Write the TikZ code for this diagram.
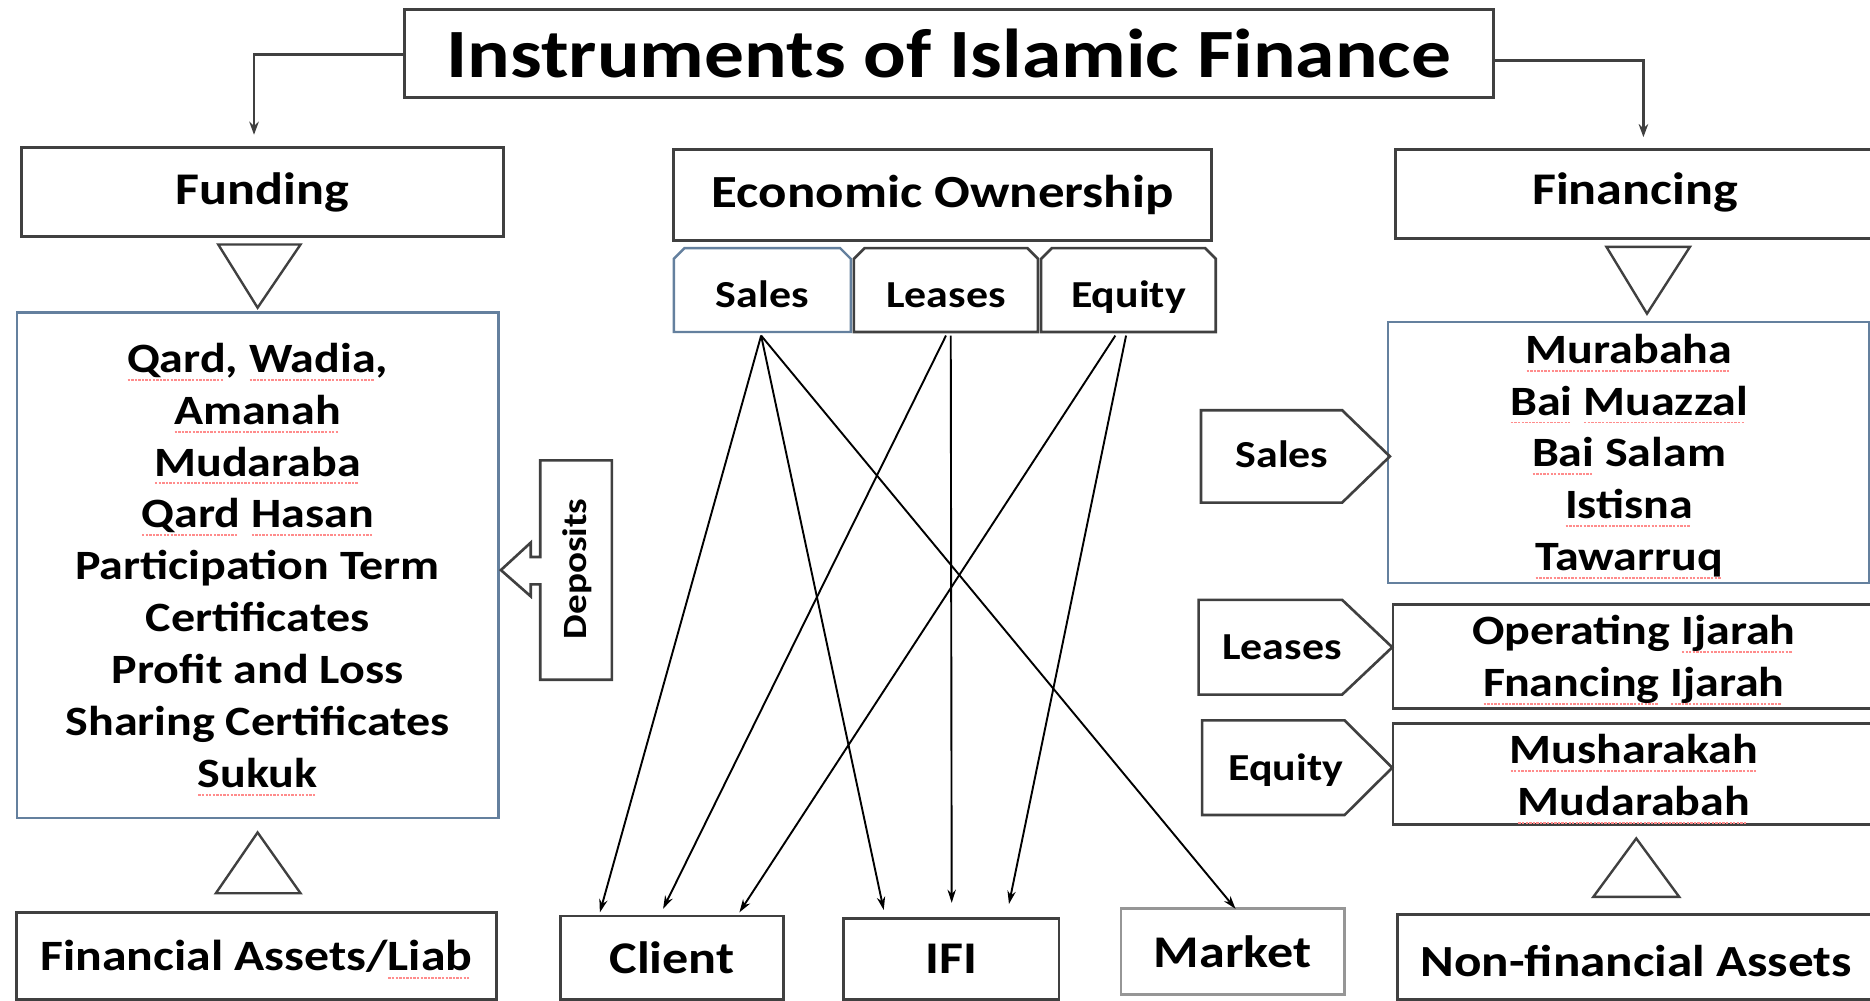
\documentclass[tikz,border=0pt]{standalone}
\usepackage{fontspec}
\setmainfont{Carlito}[FakeStretch=1.15]
\usetikzlibrary{arrows.meta,calc}
\newsavebox\spwbox
\newcommand\spw[1]{\sbox\spwbox{#1}\rlap{\raisebox{-7pt}[0pt][0pt]{\color{red!45}\hbox to\wd\spwbox{\leaders\hbox to 3pt{\hss\rule{2pt}{1.6pt}\hss}\hfill}}}\usebox\spwbox}
\definecolor{dkgray}{RGB}{64,64,64}
\definecolor{bluegray}{RGB}{100,128,158}
\definecolor{ltgray}{RGB}{150,150,150}
\begin{document}
\begin{tikzpicture}[x=1pt,y=-1pt,
  bx/.style={draw=dkgray, line width=2.4pt, fill=white, anchor=north west, inner sep=0pt, outer sep=0pt},
  bbx/.style={bx, draw=bluegray, line width=2pt},
  lbl/.style={font=\bfseries\fontsize{38}{44}\selectfont},
  lst/.style={font=\bfseries\fontsize{35}{43.5}\selectfont, align=center},
  tabtxt/.style={font=\bfseries\fontsize{32}{36}\selectfont, inner sep=0pt, text height=28.5pt, text depth=0pt},
  arr/.style={-{Stealth[length=11pt,width=7pt]}, line width=1.6pt, black},
  tri/.style={draw=dkgray, line width=2pt, fill=white, line join=miter},
  shp/.style={draw=dkgray, line width=2.2pt, line join=miter}
]
\useasboundingbox (0,0) rectangle (1568,839);
\clip (0,0) rectangle (1568,839);
\fill[white] (0,0) rectangle (1568,839);

% title
\node[bx, minimum width=913, minimum height=74, font=\bfseries\fontsize{58}{64}\selectfont] (title) at (339,8) {Instruments of Islamic Finance};

% left column
\node[bx, lbl, minimum width=404, minimum height=74] (funding) at (18,124) {Funding};
\draw[tri] (183,205) -- (252,205) -- (216,258) -- cycle;
\node[bbx, lst, minimum width=404, minimum height=424] (fundlist) at (14,262)
 {\spw{Qard}, \spw{Wadia},\\ \spw{Amanah}\\ \spw{Mudaraba}\\ \spw{Qard} \spw{Hasan}\\ Participation Term\\ Certificates\\ Profit and Loss\\ Sharing Certificates\\ \spw{Sukuk}};
\draw[tri] (216,698) -- (252,749) -- (181,749) -- cycle;
\node[bx, minimum width=402, minimum height=73] (finassets) at (14,765) {};
\node[font=\bfseries\fontsize{36.3}{42}\selectfont] (finassetstxt) at (215,802) {Financial Assets/\spw{Liab}};

% deposits arrow
\draw[shp, fill=white] (513,386) -- (453,386) -- (453,467) -- (445,467) -- (445,455) -- (420,478) -- (445,500) -- (445,490) -- (453,490) -- (453,570) -- (513,570) -- cycle;
\node[rotate=90, font=\bfseries\fontsize{28.5}{30}\selectfont] (dep) at (484,477) {Deposits};

% middle column
\node[bx, font=\bfseries\fontsize{38.6}{44}\selectfont, minimum width=451, minimum height=77] (ecoown) at (565,125) {Economic Ownership};
\node[tabtxt, anchor=north west, minimum width=148, minimum height=70] (tsales) at (565,208) {Sales};
\node[tabtxt, anchor=north west, minimum width=154, minimum height=70] (tlease) at (716,208) {Leases};
\node[tabtxt, anchor=north west, minimum width=146, minimum height=70] (tequity) at (873,208) {Equity};
\draw[bluegray, line width=2pt] (tsales.south west) -- ($(tsales.north west)+(0,9)$) -- ($(tsales.north west)+(9,0)$) -- ($(tsales.north east)+(-9,0)$) -- ($(tsales.north east)+(0,9)$) -- (tsales.south east) -- cycle;
\draw[shp] (tlease.south west) -- ($(tlease.north west)+(0,9)$) -- ($(tlease.north west)+(9,0)$) -- ($(tlease.north east)+(-9,0)$) -- ($(tlease.north east)+(0,9)$) -- (tlease.south east) -- cycle;
\draw[shp] (tequity.south west) -- ($(tequity.north west)+(0,9)$) -- ($(tequity.north west)+(9,0)$) -- ($(tequity.north east)+(-9,0)$) -- ($(tequity.north east)+(0,9)$) -- (tequity.south east) -- cycle;

\node[bx, lbl, minimum width=187, minimum height=70] (client) at (470,768) {Client};
\node[bx, lbl, minimum width=181, minimum height=68] (ifi) at (707,770) {IFI};
\node[bx, lbl, draw=ltgray, minimum width=187, minimum height=72] (market) at (940,762) {Market};

% right column
\node[bx, minimum width=410, minimum height=75] (financing) at (1170,125) {};
\node[lbl] (financingtxt) at (1371,161) {Financing};
\draw[tri] (1347,207) -- (1417,207) -- (1381,263) -- cycle;
\node[bbx, minimum width=403, minimum height=219] (salelist) at (1164,270) {};
\node[lst] (salelisttxt) at (1366,382)
 {\spw{Murabaha}\\ \spw{Bai} \spw{Muazzal}\\ \spw{Bai} Salam\\ \spw{Istisna}\\ \spw{Tawarruq}};
\node[bx, minimum width=412, minimum height=87] (leaselist) at (1168,507) {};
\node[lst] (leaselisttxt) at (1370,553) {Operating \spw{Ijarah}\\ \spw{Fnancing} \spw{Ijarah}};
\node[bx, minimum width=412, minimum height=84] (equitylist) at (1168,607) {};
\node[lst] (equitylisttxt) at (1370,650) {\spw{Musharakah}\\ \spw{Mudarabah}};
\draw[tri] (1372,703) -- (1408,752) -- (1336,752) -- cycle;
\node[bx, minimum width=408, minimum height=71] (nonfin) at (1172,767) {};
\node[font=\bfseries\fontsize{37.3}{42}\selectfont] (nonfintxt) at (1372,806) {Non-financial Assets};

% pentagons
\node[tabtxt, anchor=north west, minimum width=118, minimum height=77] (psales) at (1007,344) {};
\draw[shp] (psales.north west) -- (psales.north east) -- ($(psales.east)+(40,0)$) -- (psales.south east) -- (psales.south west) -- cycle;
\node[tabtxt] (psalestxt) at (1075,378) {Sales};
\node[tabtxt, anchor=north west, minimum width=120, minimum height=79] (pleases) at (1005,503) {};
\draw[shp] (pleases.north west) -- (pleases.north east) -- ($(pleases.east)+(42,0)$) -- (pleases.south east) -- (pleases.south west) -- cycle;
\node[tabtxt] (pleasestxt) at (1075,539) {Leases};
\node[tabtxt, anchor=north west, minimum width=119, minimum height=79] (pequity) at (1008,604) {};
\draw[shp] (pequity.north west) -- (pequity.north east) -- ($(pequity.east)+(40,0)$) -- (pequity.south east) -- (pequity.south west) -- cycle;
\node[tabtxt] (pequitytxt) at (1078,640) {Equity};

% title connectors
\coordinate (fa) at ($(funding.north)+(-7,-11)$);
\coordinate (fb) at ($(financing.north)+(3,-10)$);
\draw[arr, line width=2.4pt, draw=dkgray, -{Stealth[length=11pt,width=8pt]}] ($(title.west)+(0,1)$) -| (fa);
\draw[arr, line width=2.4pt, draw=dkgray, -{Stealth[length=11pt,width=8pt]}] ($(title.east)+(0,6)$) -| (fb);

% connectors from tabs
\coordinate (ss) at ($(tsales.south)+(-1,3)$);
\coordinate (ls1) at ($(tlease.south)+(0,3)$);
\coordinate (ls2) at ($(tlease.south)+(4,3)$);
\coordinate (es1) at ($(tequity.south)+(-11,3)$);
\coordinate (es2) at ($(tequity.south)+(-2,3)$);
\coordinate (cl1) at ($(client.north west)+(33,-3)$);
\coordinate (cl2) at ($(client.north west)+(86,-6)$);
\coordinate (cl3) at ($(client.north west)+(150,-3)$);
\coordinate (if1) at ($(ifi.north west)+(34,-7)$);
\coordinate (if2) at ($(ifi.north west)+(91,-13)$);
\coordinate (if3) at ($(ifi.north west)+(139,-12)$);
\coordinate (mk1) at ($(market.north west)+(96,0)$);
\draw[arr] (ss) -- (cl1);
\draw[arr] (ss) -- (if1);
\draw[arr] (ss) -- (mk1);
\draw[arr] (ls1) -- (cl2);
\draw[arr] (ls2) -- (if2);
\draw[arr] (es1) -- (cl3);
\draw[arr] (es2) -- (if3);
\end{tikzpicture}
\end{document}
